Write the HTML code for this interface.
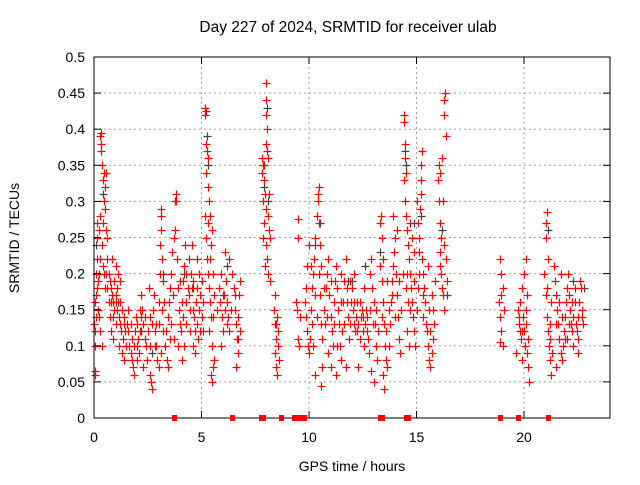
<!DOCTYPE html>
<html><head><meta charset="utf-8"><style>
body{margin:0;background:#fff}
svg text{font-family:"Liberation Sans",sans-serif;font-size:14px;fill:#000}
</style></head><body>
<svg id="chart" width="640" height="480" xmlns="http://www.w3.org/2000/svg">
<rect width="640" height="480" fill="#fff"/>
<text x="348" y="32" text-anchor="middle" style="font-size:15.5px">Day 227 of 2024, SRMTID for receiver ulab</text>
<text transform="translate(19,238) rotate(-90)" text-anchor="middle">SRMTID / TECUs</text>
<text x="352" y="471" text-anchor="middle">GPS time / hours</text>
<g id="grid"></g>
<g id="grayPts"></g>
<g id="redPts"></g>
<g id="axes"></g>
<g id="zeros"></g>
</svg>
<script>
const xTicks=[0,5,10,15,20];
const yTicks=[0,0.05,0.1,0.15,0.2,0.25,0.3,0.35,0.4,0.45,0.5];
const yTickLabels=["0","0.05","0.1","0.15","0.2","0.25","0.3","0.35","0.4","0.45","0.5"];
const redPoints=[
[0.02,0.13],[0.03,0.10],[0.05,0.065],[0.04,0.06],[0.06,0.12],[0.08,0.14],[0.1,0.17],[0.1,0.2],[0.12,0.22],[0.14,0.25],[0.15,0.27],[0.13,0.18],[0.05,0.16],
[0.3,0.39],[0.32,0.38],[0.31,0.37],[0.32,0.395],[0.35,0.35],[0.4,0.33],[0.45,0.34],[0.5,0.32],[0.45,0.3],[0.5,0.29],[0.55,0.26],[0.6,0.25],[0.25,0.2],[0.3,0.22],[0.35,0.24],[0.4,0.21],[0.45,0.2],[0.2,0.15],[0.25,0.14],[0.3,0.12],[0.35,0.1],[0.5,0.18],[0.55,0.2],[0.6,0.22],[0.22,0.26],[0.28,0.28],[0.58,0.34],
[0.7,0.2],[0.75,0.19],[0.8,0.18],[0.85,0.17],[0.9,0.16],[0.95,0.15],[1.0,0.17],[1.05,0.18],[1.1,0.16],[1.15,0.14],[1.2,0.13],[1.25,0.12],[1.3,0.15],[1.35,0.11],[1.4,0.13],[1.45,0.12],[0.75,0.14],[0.8,0.12],[0.9,0.11],[1.0,0.21],[1.1,0.2],[1.2,0.19],[0.7,0.16],[0.85,0.22],[1.3,0.09],[1.4,0.08],[1.5,0.1],[1.0,0.13],[1.15,0.1],[0.95,0.19],
[1.6,0.12],[1.65,0.1],[1.7,0.09],[1.75,0.08],[1.8,0.07],[1.85,0.1],[1.9,0.12],[1.95,0.14],[2.0,0.13],[2.05,0.11],[2.1,0.09],[2.15,0.12],[2.2,0.14],[2.25,0.15],[2.3,0.13],[2.35,0.11],[2.4,0.1],[2.45,0.08],[2.0,0.08],[1.7,0.13],[1.85,0.06],[2.3,0.07],[2.5,0.12],[1.6,0.15],[2.2,0.17],
[2.6,0.06],[2.65,0.05],[2.7,0.04],[2.6,0.1],[2.7,0.13],[2.75,0.15],[2.8,0.17],[2.85,0.12],[2.9,0.1],[2.95,0.08],[3.0,0.16],[3.05,0.2],[3.05,0.24],[3.1,0.26],[3.1,0.28],[3.12,0.29],[3.15,0.22],[3.2,0.19],[3.15,0.15],[3.2,0.12],[3.0,0.07],[3.1,0.09],[2.55,0.18],[2.9,0.13],
[3.3,0.1],[3.35,0.12],[3.4,0.08],[3.45,0.14],[3.5,0.16],[3.55,0.18],[3.6,0.2],[3.65,0.23],[3.7,0.25],[3.75,0.3],[3.8,0.31],[3.8,0.3],[3.75,0.26],[3.85,0.22],[3.9,0.18],[3.95,0.15],[4.0,0.13],[4.05,0.12],[4.1,0.16],[4.15,0.19],[4.2,0.21],[4.25,0.24],[4.3,0.2],[4.35,0.18],[4.4,0.17],[4.45,0.15],[3.6,0.13],[3.9,0.1],[4.2,0.1],[4.3,0.13],[3.45,0.07],[4.1,0.08],[3.7,0.11],[4.4,0.22],
[4.5,0.2],[4.55,0.18],[4.6,0.15],[4.65,0.14],[4.7,0.12],[4.75,0.16],[4.8,0.13],[4.85,0.11],[4.9,0.15],[4.95,0.17],[5.0,0.14],[5.0,0.19],[4.6,0.1],[4.7,0.09],[4.8,0.22],[4.9,0.2],[5.05,0.12],[4.55,0.24],
[5.15,0.42],[5.18,0.43],[5.2,0.425],[5.2,0.38],[5.25,0.37],[5.3,0.36],[5.22,0.34],[5.3,0.32],[5.35,0.3],[5.4,0.28],[5.15,0.28],[5.2,0.25],[5.25,0.22],[5.3,0.2],[5.35,0.18],[5.4,0.16],[5.45,0.24],[5.5,0.26],[5.45,0.14],[5.5,0.1],[5.55,0.07],[5.45,0.06],[5.5,0.05],[5.6,0.08],[5.35,0.12],[5.55,0.2],[5.6,0.17],
[5.8,0.18],[5.85,0.16],[5.9,0.2],[5.95,0.14],[6.0,0.12],[6.05,0.17],[6.1,0.15],[6.15,0.19],[6.2,0.16],[6.25,0.14],[6.3,0.12],[6.4,0.2],[6.5,0.18],[6.55,0.15],[6.6,0.13],[6.65,0.11],[6.7,0.09],[6.7,0.14],[6.75,0.17],[6.6,0.07],[5.9,0.1],[6.1,0.23],[6.3,0.22],[6.8,0.12],[6.8,0.19],
[7.8,0.36],[7.85,0.35],[7.8,0.34],[7.9,0.33],[7.85,0.3],[8.0,0.464],[8.0,0.44],[8.02,0.42],[8.05,0.4],[8.0,0.38],[8.05,0.37],[8.1,0.36],[7.95,0.31],[8.0,0.29],[8.1,0.28],[8.15,0.31],[7.9,0.27],[8.0,0.24],[8.05,0.22],[8.1,0.2],[7.95,0.21],[7.85,0.25],[8.2,0.25],[8.2,0.19],
[8.35,0.15],[8.4,0.13],[8.45,0.11],[8.4,0.09],[8.45,0.07],[8.5,0.06],[8.55,0.1],[8.5,0.14],[8.55,0.12],[8.4,0.17],[8.6,0.08],
[9.5,0.275],[9.5,0.25],[9.4,0.16],[9.45,0.15],[9.5,0.11],[9.55,0.1],
[9.8,0.16],[9.85,0.14],[9.9,0.12],[9.95,0.1],[10.0,0.09],[10.05,0.11],[10.1,0.15],[10.15,0.18],[10.2,0.2],[10.25,0.22],[10.3,0.25],[10.35,0.28],[10.4,0.3],[10.45,0.32],[10.4,0.31],[10.45,0.27],[10.5,0.24],[10.55,0.21],[10.5,0.17],[10.55,0.13],[10.6,0.11],[10.6,0.07],[10.55,0.045],[10.3,0.06],[10.2,0.1],[10.1,0.21],[9.9,0.21],[10.0,0.24],[10.35,0.14],
[10.7,0.15],[10.75,0.13],[10.8,0.18],[10.85,0.2],[10.9,0.22],[10.95,0.17],[11.0,0.14],[11.05,0.12],[11.1,0.1],[11.15,0.16],[11.2,0.19],[11.25,0.21],[11.3,0.18],[11.35,0.15],[11.4,0.13],[11.45,0.1],[11.5,0.08],[11.55,0.12],[11.6,0.16],[11.65,0.19],[11.7,0.22],[11.75,0.18],[11.8,0.14],[11.85,0.11],[11.9,0.13],[11.95,0.16],[11.0,0.07],[11.25,0.06],[11.7,0.07],[11.5,0.2],[10.9,0.09],
[12.0,0.18],[12.05,0.15],[12.1,0.13],[12.15,0.12],[12.2,0.14],[12.25,0.16],[12.3,0.13],[12.35,0.11],[12.4,0.14],[12.45,0.15],[12.5,0.12],[12.55,0.1],[12.6,0.13],[12.65,0.15],[12.7,0.14],[12.75,0.11],[12.8,0.09],[12.85,0.2],[12.9,0.22],[12.95,0.18],[13.0,0.16],[13.05,0.13],[13.1,0.1],[13.15,0.08],[12.3,0.07],[12.55,0.18],[12.9,0.065],[13.0,0.05],[12.1,0.2],[13.2,0.12],
[13.3,0.27],[13.35,0.28],[13.4,0.25],[13.45,0.22],[13.3,0.21],[13.4,0.19],[13.45,0.16],[13.5,0.13],[13.55,0.1],[13.6,0.08],[13.65,0.07],[13.7,0.1],[13.75,0.13],[13.8,0.16],[13.85,0.19],[13.9,0.21],[13.95,0.23],[14.0,0.25],[14.05,0.2],[14.1,0.17],[14.15,0.14],[14.2,0.11],[14.25,0.09],[13.5,0.04],[13.45,0.06],[13.65,0.19],[13.9,0.28],[14.1,0.26],[14.3,0.15],
[14.4,0.42],[14.42,0.41],[14.45,0.38],[14.45,0.36],[14.5,0.34],[14.4,0.33],[14.45,0.3],[14.5,0.28],[14.55,0.26],[14.6,0.24],[14.65,0.22],[14.7,0.2],[14.75,0.18],[14.8,0.16],[14.85,0.14],[14.9,0.12],[14.95,0.1],[14.6,0.16],[14.7,0.27],[14.8,0.25],[14.9,0.23],[14.5,0.18],[14.55,0.12],[14.65,0.1],
[15.0,0.3],[15.05,0.27],[15.1,0.25],[15.15,0.29],[15.2,0.33],[15.22,0.35],[15.25,0.37],[15.2,0.31],[15.25,0.22],[15.3,0.2],[15.35,0.18],[15.4,0.16],[15.1,0.2],[15.05,0.18],[15.3,0.14],[15.0,0.15],
[15.5,0.12],[15.55,0.1],[15.6,0.08],[15.65,0.07],[15.7,0.09],[15.75,0.11],[15.6,0.15],[15.7,0.17],[15.8,0.13],[15.85,0.19],[15.55,0.21],
[16.0,0.33],[16.05,0.35],[16.1,0.34],[16.05,0.3],[16.1,0.27],[16.15,0.25],[16.1,0.23],[16.15,0.2],[16.2,0.18],[16.25,0.17],[16.3,0.44],[16.32,0.45],[16.3,0.42],[16.35,0.39],[16.2,0.36],[16.25,0.3],[16.35,0.22],[16.3,0.15],[16.4,0.19],
[18.9,0.22],[18.95,0.2],[19.0,0.18],[18.85,0.16],[18.9,0.14],[18.95,0.12],[19.0,0.1],[18.9,0.105],[19.05,0.15],
[19.7,0.15],[19.75,0.13],[19.8,0.12],[19.85,0.11],[19.9,0.18],[19.95,0.14],[20.0,0.12],[20.05,0.1],[20.1,0.13],[20.15,0.09],[20.2,0.07],[20.25,0.05],[19.8,0.16],[20.0,0.2],[20.1,0.22],[20.15,0.17],[19.65,0.09],[20.2,0.11],[19.9,0.08],
[21.0,0.27],[21.05,0.285],[21.0,0.25],[21.1,0.22],[20.95,0.2],[21.0,0.17],[21.05,0.14],[21.1,0.12],[21.15,0.1],[21.2,0.08],[21.25,0.06],[21.3,0.09],[21.2,0.13],[21.25,0.16],
[21.4,0.21],[21.45,0.19],[21.5,0.17],[21.55,0.15],[21.6,0.13],[21.65,0.11],[21.7,0.09],[21.75,0.08],[21.8,0.1],[21.85,0.12],[21.9,0.14],[21.95,0.16],[22.0,0.18],[22.05,0.2],[22.1,0.17],[22.15,0.15],[22.2,0.13],[22.25,0.12],[22.3,0.14],[22.35,0.16],[22.4,0.13],[22.45,0.12],[22.5,0.14],[22.55,0.16],[22.6,0.19],[22.65,0.18],[22.7,0.15],[22.75,0.13],[21.5,0.07],[22.0,0.11],[22.3,0.1],[21.7,0.2],[22.5,0.09]
];
const redPointsExtra=[
[0.18,0.19],[0.42,0.27],[0.62,0.18],[0.78,0.16],[0.88,0.14],[1.08,0.15],[1.22,0.16],[1.38,0.14],[1.55,0.13],[1.78,0.11],[1.98,0.1],[2.12,0.15],[2.38,0.14],[2.62,0.14],[2.82,0.1],[3.02,0.13],[3.25,0.16],[3.52,0.11],[3.68,0.17],[3.98,0.19],[4.12,0.14],[4.28,0.16],[4.48,0.12],[4.62,0.19],[4.78,0.18],[4.92,0.12],[5.08,0.16],[5.28,0.27],[5.38,0.22],[5.52,0.14],[5.72,0.15],[5.98,0.17],[6.18,0.13],[6.38,0.15],[6.58,0.17],[6.72,0.11],[7.92,0.35],[8.12,0.26],[8.45,0.13],[9.6,0.14],[9.88,0.18],[10.12,0.13],[10.28,0.17],[10.48,0.2],[10.68,0.18],[10.82,0.14],[11.02,0.19],[11.18,0.13],[11.32,0.1],[11.48,0.16],[11.62,0.13],[11.78,0.16],[11.92,0.19],[12.08,0.16],[12.22,0.12],[12.38,0.16],[12.52,0.14],[12.68,0.12],[12.82,0.15],[12.98,0.13],[13.12,0.15],[13.38,0.14],[13.58,0.12],[13.72,0.15],[13.88,0.17],[14.02,0.14],[14.18,0.19],[14.35,0.2],[14.58,0.2],[14.72,0.15],[14.88,0.19],[15.12,0.23],[15.28,0.17],[15.45,0.13],[15.62,0.12],[15.78,0.15],[16.08,0.21],[16.28,0.24],[18.92,0.17],[19.78,0.14],[19.92,0.12],[20.08,0.15],[21.08,0.18],[21.22,0.11],[21.48,0.13],[21.62,0.16],[21.78,0.14],[21.92,0.11],[22.08,0.13],[22.22,0.16],[22.38,0.18],[22.52,0.11],[22.68,0.14]
];
const grayPoints=[[0.1,0.24],[0.4,0.31],[1.0,0.16],[2.2,0.12],[3.2,0.2],[4.2,0.2],[5.25,0.39],[5.3,0.35],[7.9,0.32],[8.05,0.43],[8.1,0.3],[10.3,0.24],[10.5,0.27],[11.8,0.19],[12.6,0.21],[13.3,0.23],[14.45,0.37],[14.5,0.35],[14.9,0.27],[15.2,0.28],[16.2,0.26],[16.4,0.17],[21.1,0.26],[22.3,0.19],[22.8,0.18],[6.2,0.21],[4.6,0.18],[12.0,0.19],[2.7,0.09],[9.6,0.14]];
const zeroTimes=[3.7,6.4,7.75,7.85,8.7,9.3,9.45,9.6,9.75,13.3,13.4,14.5,14.6,18.9,19.7,21.1];

const L=94,R=610,T=57,B=418;
const X=t=>L+(t/24)*(R-L);
const Y=v=>B-(v/0.5)*(B-T);
const NS="http://www.w3.org/2000/svg";
function mk(tag,attrs,parent){const e=document.createElementNS(NS,tag);for(const k in attrs)e.setAttribute(k,attrs[k]);parent.appendChild(e);return e;}
const grid=document.getElementById('grid'),axes=document.getElementById('axes');
yTicks.forEach((v,i)=>{
  if(v>0&&v<0.5){const g=mk('line',{x1:L,x2:R,y1:Y(v),y2:Y(v),stroke:'#a0a0a0','stroke-dasharray':'2,3'},grid);
  
  }
  mk('line',{x1:L,x2:L+7,y1:Y(v),y2:Y(v),stroke:'#000'},axes);
  mk('line',{x1:R,x2:R-7,y1:Y(v),y2:Y(v),stroke:'#000'},axes);
  const t=mk('text',{x:L-9,y:Y(v)+5,'text-anchor':'end'},axes);t.textContent=yTickLabels[i];
  
  
});
xTicks.forEach(h=>{
  if(h>0){const g=mk('line',{x1:X(h),x2:X(h),y1:T,y2:B,stroke:'#a0a0a0','stroke-dasharray':'2,3'},grid);
  
  }
  mk('line',{x1:X(h),x2:X(h),y1:B,y2:B-7,stroke:'#000'},axes);
  mk('line',{x1:X(h),x2:X(h),y1:T,y2:T+7,stroke:'#000'},axes);
  const t=mk('text',{x:X(h),y:B+24,'text-anchor':'middle'},axes);t.textContent=String(h);
  
  
});
const fr=mk('rect',{x:L,y:T,width:R-L,height:B-T,fill:'none',stroke:'#000'},axes);


function plus(p,col,parent,name){
  const x=Math.round(X(p[0]))+0.5,y=Math.round(Y(p[1]))+0.5;
  const e=mk('path',{d:`M${x-4} ${y}H${x+4}M${x} ${y-4}V${y+4}`,stroke:col,'stroke-width':1.2,fill:'none'},parent);
  
  
}
grayPoints.forEach(p=>plus(p,'#404040',document.getElementById('grayPts'),'gray-point'));
redPoints.forEach(p=>plus(p,'#ff0000',document.getElementById('redPts'),'red-point'));
redPointsExtra.forEach(p=>plus(p,'#ff0000',document.getElementById('redPts'),'red-point'));
zeroTimes.forEach(t=>{
  const e=mk('rect',{x:Math.round(X(t))-2,y:B-3,width:5,height:6,fill:'#ff0000'},document.getElementById('zeros'));
  
  
});
</script>
</body></html>
